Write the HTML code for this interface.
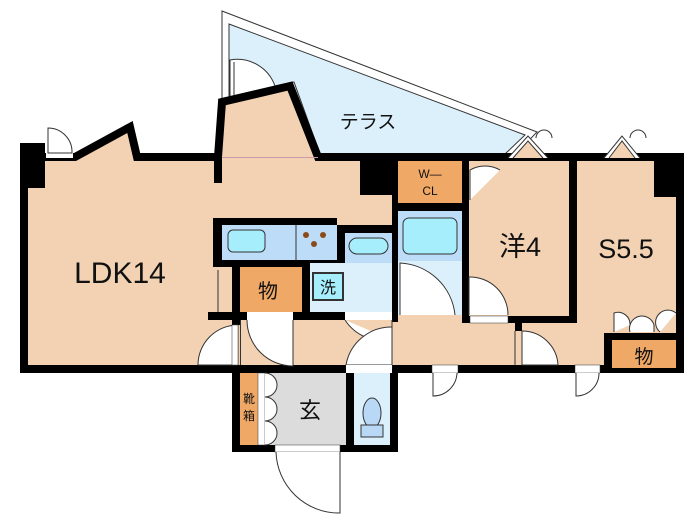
<!DOCTYPE html>
<html><head><meta charset="utf-8"><style>
html,body{margin:0;padding:0;background:#fff;width:700px;height:525px;overflow:hidden}
svg{display:block}
text{font-family:"Liberation Sans","Noto Sans CJK JP",sans-serif;fill:#111}
</style></head><body>
<svg width="700" height="525" viewBox="0 0 700 525" xmlns="http://www.w3.org/2000/svg">
<!-- terrace -->
<polygon points="222,11 537,132 512,158 318,158 292,86 222,100" fill="#fff" stroke="#333" stroke-width="1"/>
<polygon points="229,24 525,135 505,154 320,154 294,82 229,96" fill="#dcf0fb" stroke="#333" stroke-width="1"/>
<!-- terrace door -->
<path d="M230,98 L230,60 A40,40 0 0 1 275,86" fill="#fff" stroke="#333" stroke-width="1"/>
<line x1="234" y1="97" x2="234" y2="62" stroke="#333"/>
<polygon points="230,97 284,85 286,94 232,106" fill="#fff" stroke="#333"/>
<!-- main tan floor -->
<path d="M24,157 L75,157 L130,127 L137,157 L218,157 L222,102 L290,86 L318,157 L676,157 L676,369 L24,369 Z" fill="#f2d2b2"/>
<!-- outer walls -->
<path d="M24,157 L75,157 L130,127 L137,157 L218,157 L222,102 L290,86 L318,157 L680,157 L680,369 L24,369 Z" fill="none" stroke="#000" stroke-width="8" stroke-linejoin="miter"/>
<rect x="20" y="143" width="25" height="45" fill="#000"/>
<rect x="214" y="153" width="8" height="30" fill="#000"/>
<rect x="222" y="157" width="96" height="1" fill="#c9a"/>
<!-- top-left small door -->
<rect x="46" y="148" width="27" height="10" fill="#fff"/>
<path d="M48,153 L48,128 A24,24 0 0 1 72,153 Z" fill="#fff" stroke="#333" stroke-width="1"/>
<!-- black blocks -->
<rect x="360" y="153" width="38" height="42" fill="#000"/>
<rect x="654" y="157" width="26" height="40" fill="#000"/>
<!-- W-CL -->
<rect x="398" y="161" width="64" height="42" fill="#f0a866"/>
<text x="430" y="178" font-size="12" text-anchor="middle">W—</text>
<text x="430" y="195" font-size="12" text-anchor="middle">CL</text>
<rect x="392" y="157" width="6" height="165" fill="#000"/>
<rect x="398" y="203" width="64" height="8" fill="#000"/>
<!-- bath -->
<rect x="398" y="211" width="64" height="104" fill="#dcf0fb"/>
<rect x="398" y="211" width="64" height="50" fill="#bcdcf8"/>
<rect x="403" y="218" width="54" height="36" rx="6" fill="#a6eefc" stroke="#333"/>
<path d="M400,315 L400,263 A58,58 0 0 1 455,315" fill="#fff" stroke="#333"/>
<rect x="462" y="157" width="7" height="166" fill="#000"/>
<!-- 洋4 -->
<rect x="469" y="161" width="100" height="155" fill="#f2d2b2"/>
<path d="M470,200 L470,170 A30,30 0 0 1 500,170" fill="#fff" stroke="#333"/>
<path d="M469,315 L469,277 A38,38 0 0 1 508,315" fill="#fff" stroke="#333"/>
<rect x="569" y="157" width="8" height="166" fill="#000"/>
<rect x="462" y="316" width="115" height="7" fill="#000"/>
<rect x="470" y="316" width="38" height="7" fill="#fff" stroke="#333" stroke-width="0.5"/>
<text x="520" y="256" font-size="27" text-anchor="middle">洋4</text>
<text x="626" y="258" font-size="27" text-anchor="middle">S5.5</text>
<!-- windows top -->
<path d="M508,158 L528,136 L548,158" fill="#fff" stroke="#333"/>
<path d="M513,158 L528,141 L543,158" fill="#f2d2b2" stroke="#333"/>
<path d="M604,158 L622,136 L640,158" fill="#fff" stroke="#333"/>
<path d="M609,158 L622,141 L635,158" fill="#f2d2b2" stroke="#333"/>
<path d="M536,138 A8,8 0 0 1 552,138" fill="#fff" stroke="#333"/>
<path d="M630,138 A8,8 0 0 1 646,138" fill="#fff" stroke="#333"/>
<!-- S 物 -->
<rect x="604" y="333" width="76" height="36" fill="#000"/>
<rect x="612" y="340" width="64" height="28" fill="#f0a866"/>
<text x="644" y="363" font-size="19" text-anchor="middle">物</text>
<path d="M614,332 L614,313 A12,12 0 0 1 630,325 M630,332 A12,12 0 0 1 654,325 L654,332 M660,332 A12,12 0 0 1 676,313" fill="#fff" stroke="#333"/>
<!-- kitchen -->
<rect x="213" y="218" width="124" height="49" fill="#000"/>
<rect x="222" y="225" width="115" height="35" fill="#bcdcf8"/>
<line x1="296" y1="225" x2="296" y2="260" stroke="#333"/>
<rect x="228" y="230" width="37" height="22" rx="5" fill="#a6eefc" stroke="#333"/>
<circle cx="306" cy="235" r="3" fill="#8a4a1a"/><circle cx="323" cy="235" r="3" fill="#8a4a1a"/><circle cx="314" cy="244" r="3" fill="#8a4a1a"/>
<rect x="337" y="225" width="55" height="8" fill="#000"/>
<rect x="345" y="233" width="47" height="30" fill="#bcdcf8"/>
<rect x="349" y="238" width="39" height="16" rx="8" fill="#a6eefc" stroke="#333"/>
<rect x="337" y="233" width="8" height="34" fill="#000"/>
<!-- 物 & 洗 -->
<rect x="232" y="267" width="8" height="58" fill="#000"/>
<rect x="240" y="267" width="62" height="45" fill="#f0a866"/>
<text x="268" y="298" font-size="20" text-anchor="middle">物</text>
<rect x="302" y="267" width="8" height="50" fill="#000"/>
<rect x="310" y="263" width="82" height="50" fill="#dcf0fb"/>
<rect x="313" y="273" width="30" height="27" fill="#a6eefc" stroke="#333" stroke-width="2"/>
<text x="328" y="293" font-size="16" text-anchor="middle">洗</text>
<line x1="218" y1="270" x2="218" y2="315" stroke="#333"/>
<!-- horizontal wall -->
<rect x="208" y="312" width="184" height="8" fill="#000"/>
<rect x="247" y="312" width="46" height="8" fill="#fff"/>
<rect x="345" y="312" width="47" height="8" fill="#fff"/>
<path d="M247,320 A46,46 0 0 0 293,366 L293,320" fill="#fff" stroke="#333"/>
<path d="M345,320 A46,46 0 0 0 392,340" fill="#fff" stroke="#333"/>
<path d="M392,327 A46,46 0 0 0 346,365 L392,365 Z" fill="#fff" stroke="#333"/>
<rect x="240" y="320" width="1" height="45" fill="#333"/>
<path d="M238,365 L198,365 A40,40 0 0 1 238,325 Z" fill="#fff" stroke="#333"/>
<rect x="232" y="325" width="6" height="40" fill="#fff" stroke="#333" stroke-width="0.5"/>
<line x1="392" y1="320" x2="392" y2="365" stroke="#333"/>
<!-- hallway right wall stub -->
<rect x="515" y="323" width="7" height="8" fill="#000"/>
<path d="M522,331 A36,36 0 0 1 558,365 L522,365 Z" fill="#fff" stroke="#333"/>
<line x1="515" y1="331" x2="515" y2="365" stroke="#333"/>
<!-- bottom wall doors outward -->
<rect x="432" y="365" width="26" height="8" fill="#fff" stroke="#333" stroke-width="0.5"/>
<path d="M433,373 L433,396 A24,24 0 0 0 457,373" fill="#fff" stroke="#333"/>
<rect x="575" y="365" width="25" height="8" fill="#fff" stroke="#333" stroke-width="0.5"/>
<path d="M576,373 L576,396 A23,23 0 0 0 599,373" fill="#fff" stroke="#333"/>
<rect x="346" y="365" width="46" height="8" fill="#fff" stroke="#333" stroke-width="0.5"/>
<!-- entrance -->
<rect x="232" y="369" width="166" height="83" fill="#000"/>
<rect x="240" y="373" width="18" height="72" fill="#f0a866"/>
<text x="249" y="403" font-size="12" text-anchor="middle">靴</text>
<text x="249" y="420" font-size="12" text-anchor="middle">箱</text>
<rect x="258" y="373" width="88" height="72" fill="#dcdcdc"/>
<rect x="258" y="373" width="7" height="72" fill="#fff" stroke="#333" stroke-width="0.5"/>
<path d="M265,373 A12,12 0 0 1 265,397 A12,12 0 0 1 265,421 A12,12 0 0 1 265,445" fill="#fff" stroke="#333"/>
<text x="310" y="418" font-size="22" text-anchor="middle">玄</text>
<rect x="354" y="373" width="36" height="72" fill="#dcf0fb"/>
<ellipse cx="372" cy="413" rx="9" ry="15" fill="#b8d8f6" stroke="#333"/>
<rect x="361" y="425" width="22" height="12" fill="#b8d8f6" stroke="#333"/>
<rect x="346" y="365" width="46" height="8" fill="#fff"/>
<rect x="275" y="445" width="65" height="7" fill="#fff" stroke="#333" stroke-width="0.5"/>
<path d="M340,452 L340,513 A63,63 0 0 1 276,452" fill="#fff" stroke="#333"/>
<!-- labels -->
<text x="368" y="128" font-size="19" text-anchor="middle">テラス</text>
<text x="120" y="283" font-size="30" text-anchor="middle">LDK14</text>
</svg>
</body></html>
